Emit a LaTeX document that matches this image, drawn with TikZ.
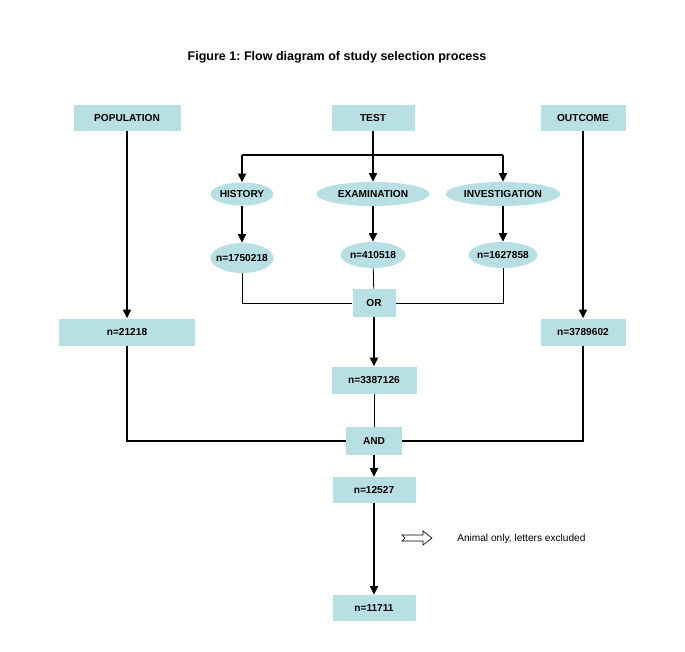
\documentclass[tikz,border=0pt]{standalone}
\usepackage{fontspec}
\setmainfont{Liberation Sans}
\usepackage{tikz}
\usetikzlibrary{arrows.meta,positioning,shapes.geometric}
\frenchspacing
\definecolor{boxcyan}{RGB}{184,223,227}
\tikzstyle{arrow}=[-{Triangle[length=6.5pt,width=6pt]},line width=1.4pt]
\tikzstyle{thickline}=[line width=1.4pt]
\tikzstyle{thinline}=[line width=0.6pt]
\tikzstyle{sbox}=[rectangle,fill=boxcyan,inner sep=0pt,minimum height=26*0.75pt,
                  font=\fontsize{7.6}{9}\selectfont\bfseries]
\tikzstyle{sell}=[ellipse,fill=boxcyan,inner xsep=-3pt,inner ysep=0pt,
                  font=\fontsize{7.6}{9}\selectfont\bfseries]

\begin{document}
\begin{tikzpicture}[x=0.75pt,y=-0.75pt]
      \useasboundingbox (0,0) rectangle (685,651);
      \node[font=\fontsize{9.4}{11}\selectfont\bfseries] (ttl) at (337,57)
            {Figure 1: Flow diagram of study selection process};

      \node[sbox,minimum width=107*0.75pt] (pop) at (127,118) {POPULATION};
      \node[sbox,minimum width=83*0.75pt] (test) at (373,118) {TEST};
      \node[sbox,minimum width=85*0.75pt] (outc) at (583,118) {OUTCOME};

      \node[sell,minimum width=63*0.75pt,minimum height=23*0.75pt] (hist) at (242,194) {HISTORY};
      \node[sell,minimum width=113*0.75pt,minimum height=24*0.75pt] (exam) at (373,194) {EXAMINATION};
      \node[sell,minimum width=115*0.75pt,minimum height=24*0.75pt] (inv) at (503,194) {INVESTIGATION};

      \node[sell,minimum width=63*0.75pt,minimum height=30*0.75pt] (nhist) at (242,258) {n=1750218};
      \node[sell,minimum width=65*0.75pt,minimum height=26*0.75pt] (nexam) at (373,255) {n=410518};
      \node[sell,minimum width=69*0.75pt,minimum height=26*0.75pt] (ninv) at (503,255) {n=1627858};

      \node[sbox,minimum width=43*0.75pt,minimum height=28*0.75pt] (or) at (374,303) {OR};
      \node[sbox,minimum width=136*0.75pt,minimum height=27*0.75pt] (npop) at (127,332) {n=21218};
      \node[sbox,minimum width=85*0.75pt,minimum height=27*0.75pt] (noutc) at (583,332) {n=3789602};
      \node[sbox,minimum width=85*0.75pt,minimum height=27*0.75pt] (ntest) at (374,380) {n=3387126};
      \node[sbox,minimum width=56*0.75pt,minimum height=28*0.75pt] (and) at (374,441) {AND};
      \node[sbox,minimum width=83*0.75pt] (nand) at (374,490) {n=12527};
      \node[sbox,minimum width=83*0.75pt] (nfin) at (374,608) {n=11711};

      \node[anchor=west,inner sep=0pt,font=\fontsize{7.6}{9}\selectfont] (excl) at (457,539) {Animal only, letters excluded};

      % branches from TEST
      \coordinate (bl) at (242,155);
      \coordinate (br) at (503,155);
      \draw[arrow] (test)--(exam);
      \draw[thickline] (bl)--(br);
      \draw[arrow] (bl)--(hist);
      \draw[arrow] (br)--(inv);
      \draw[arrow] (hist)--(nhist);
      \draw[arrow] (exam)--(nexam);
      \draw[arrow] (inv)--(ninv);

      % OR
      \draw[thinline] (nhist.south) |- (or.west);
      \draw[thinline] (ninv.south) |- (or.east);
      \draw[thinline] (nexam)--(or);
      \draw[arrow] (or)--(ntest);

      \draw[arrow] (pop)--(npop);
      \draw[arrow] (outc)--(noutc);

      % AND
      \draw[thickline] (npop.south) |- (and.west);
      \draw[thickline] (noutc.south) |- (and.east);
      \draw[thinline] (ntest)--(and);
      \draw[arrow] (and)--(nand);
      \draw[arrow] (nand)--(nfin);

      % exclusion marker
      \draw[line width=0.5pt,fill=white] (402,535)--(423,535)--(423,531)--(432,538)
            --(423,545)--(423,541)--(402,541)--(405,538)--cycle;
    \end{tikzpicture}
\end{document}
